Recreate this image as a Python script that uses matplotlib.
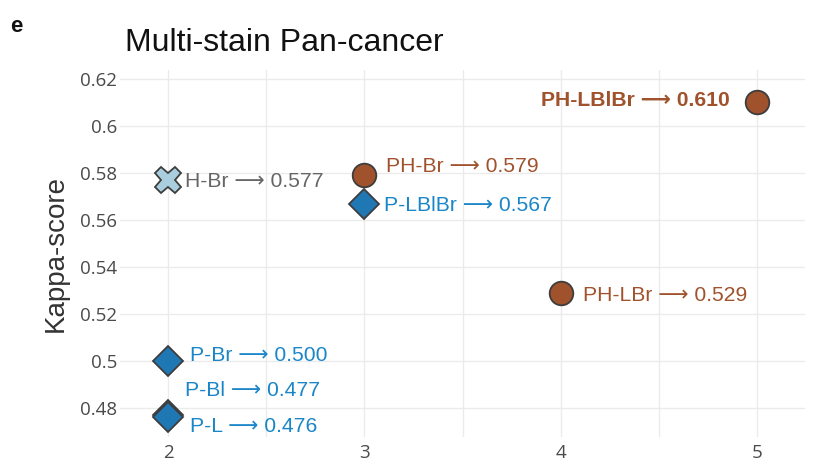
import matplotlib
matplotlib.use("Agg")
import matplotlib.pyplot as plt
from matplotlib.ticker import MultipleLocator

# ---- data ----
labels = ["H-Br", "P-Br", "P-Bl", "P-L", "PH-Br", "P-LBlBr", "PH-LBr", "PH-LBlBr"]
n_stains = [2, 2, 2, 2, 3, 3, 4, 5]
kappa = [0.577, 0.500, 0.477, 0.476, 0.579, 0.567, 0.529, 0.610]
groups = ["H", "P", "P", "P", "PH", "P", "PH", "PH"]

# ---- styles ----
marker_of = {"H": "X", "P": "D", "PH": "o"}
size_of = {"H": 19, "P": 15.5, "PH": 17}
face_of = {"H": "#a9cfdf", "P": "#1f77b4", "PH": "#a0522d"}
text_of = {"H": "#666666", "P": "#1a86c8", "PH": "#a0522d"}
# label offsets in pixels (dx, dy) and alignment
offsets = {
    "H-Br": (17, -1, "left"),
    "P-Br": (22, 6, "left"),
    "P-Bl": (17, 25, "left"),
    "P-L": (22, -9, "left"),
    "PH-Br": (22, 9, "left"),
    "P-LBlBr": (20, -2, "left"),
    "PH-LBr": (22, -3, "left"),
    "PH-LBlBr": (-27, 2, "right"),
}
ARROW = "\u27f6"

fig = plt.figure(figsize=(8.28, 4.70), dpi=100)
ax = fig.add_axes([120 / 828, 1 - 437 / 470, 685 / 828, 367 / 470])

ax.set_xlim(1.755, 5.245)
ax.set_ylim(0.4677, 0.6238)
ax.xaxis.set_major_locator(MultipleLocator(1))
ax.xaxis.set_minor_locator(MultipleLocator(0.5))
ax.yaxis.set_major_locator(MultipleLocator(0.02))
ax.grid(True, which="both", axis="x", color="#ebebeb", linewidth=1.0)
ax.grid(True, which="major", axis="y", color="#ebebeb", linewidth=1.0)
ax.set_axisbelow(True)
for s in ax.spines.values():
    s.set_visible(False)
ax.tick_params(axis="both", which="both", length=0, colors="#4a4a4a",
               labelsize=13.5)
ax.tick_params(axis="x", pad=5)
ax.tick_params(axis="y", pad=2)
ax.set_xticks([2, 3, 4, 5])
ax.set_xticklabels(["2", "3", "4", "5"])
yt = [0.48, 0.5, 0.52, 0.54, 0.56, 0.58, 0.6, 0.62]
ax.set_yticks(yt)
ax.set_yticklabels(["%g" % v for v in yt])
for t in ax.get_xticklabels() + ax.get_yticklabels():
    t.set_fontfamily(["Open Sans", "DejaVu Sans"])

for lab, x, y, g in zip(labels, n_stains, kappa, groups):
    ax.plot([x], [y], marker=marker_of[g], markersize=size_of[g],
            markerfacecolor=face_of[g], markeredgecolor="#3d3d3d",
            markeredgewidth=1.3, linestyle="none", zorder=3, clip_on=False)

for lab, x, y, g in zip(labels, n_stains, kappa, groups):
    dx, dy, ha = offsets[lab]
    bold = lab == "PH-LBlBr"
    ax.annotate(f"{lab} {ARROW} {y:.3f}", xy=(x, y), xytext=(dx, dy),
                textcoords="offset pixels", ha=ha, va="center",
                fontsize=15.2, color=text_of[g],
                fontweight="bold" if bold else "normal",
                family=["Liberation Sans", "DejaVu Sans"], zorder=4)

ax.set_ylabel("Kappa-score", fontsize=20, color="#333333",
              family=["Liberation Sans", "DejaVu Sans"], labelpad=8)

fig.text(125 / 828, 1 - 43 / 470, "Multi-stain Pan-cancer", fontsize=23,
         color="#111111", family=["Liberation Sans", "DejaVu Sans"],
         va="center", ha="left")
fig.text(10 / 828, 1 - 26 / 470, "e", fontsize=16, fontweight="bold",
         color="#111111", family=["Liberation Sans", "DejaVu Sans"],
         va="center", ha="left")

fig.savefig("out.png", dpi=100)
